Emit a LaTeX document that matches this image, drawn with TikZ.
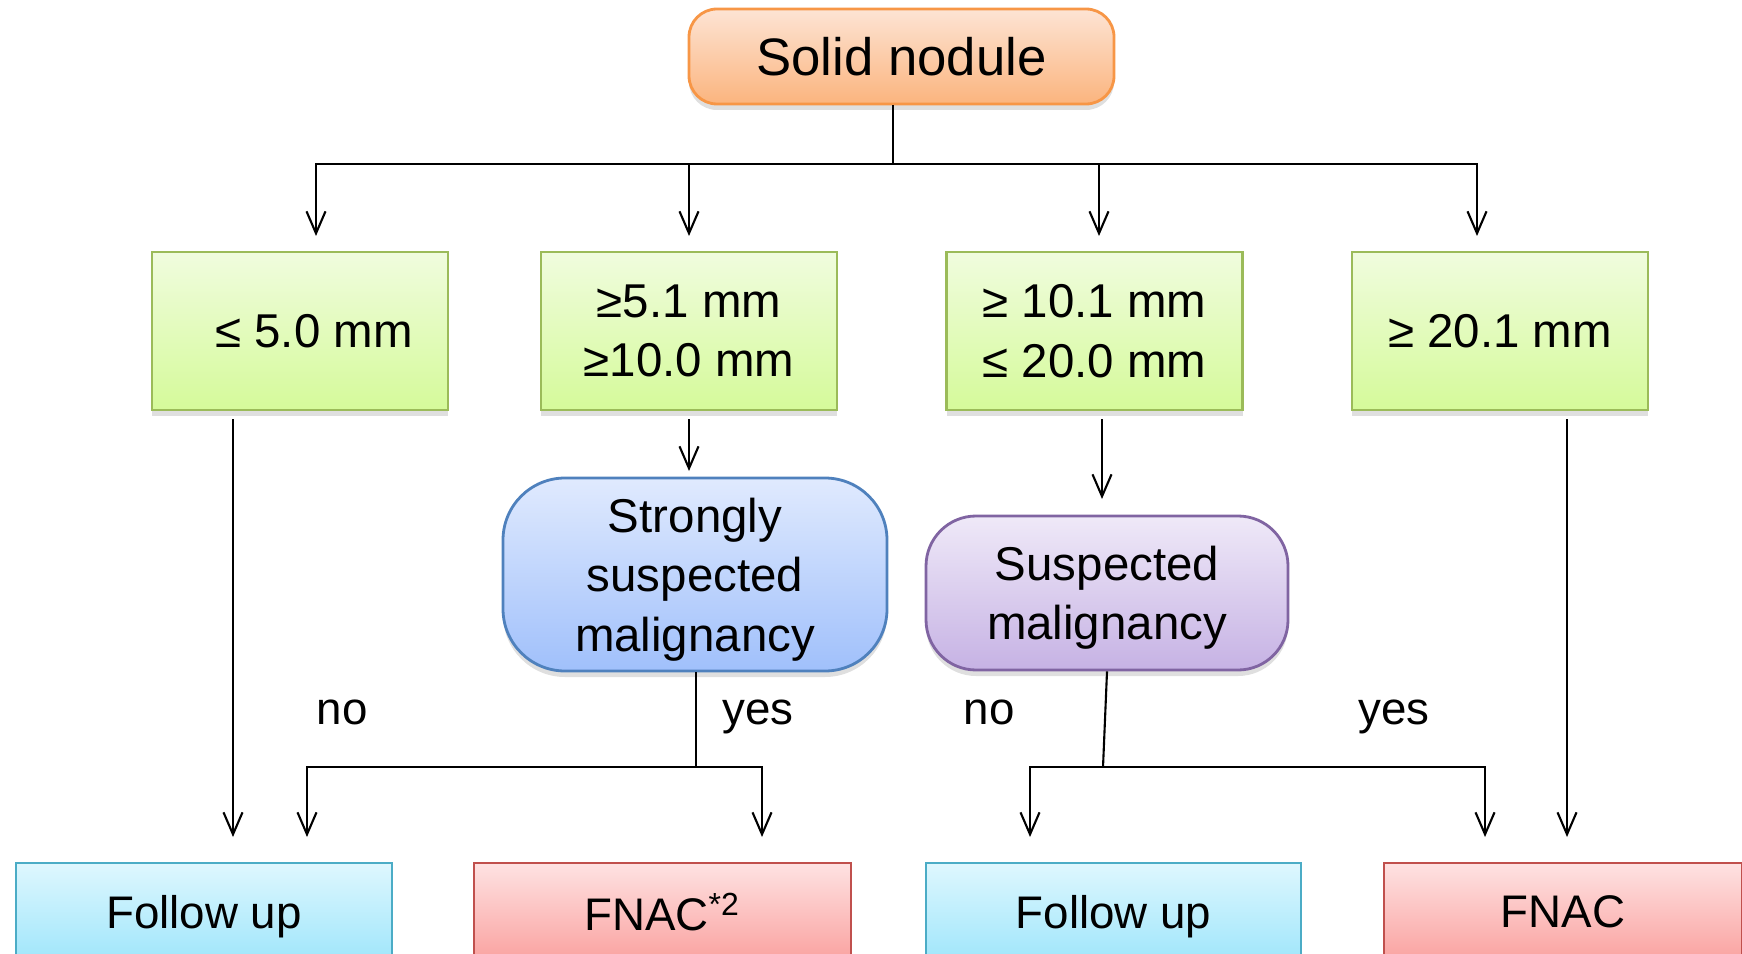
\documentclass[tikz,border=0pt]{standalone}
\usepackage{fontspec}
\setmainfont{Liberation Sans}
\usetikzlibrary{arrows.meta,shadows}

\definecolor{orgtop}{HTML}{FDE4D4}
\definecolor{orgbot}{HTML}{FBB47E}
\definecolor{orgline}{HTML}{F79646}
\definecolor{grntop}{HTML}{F0FCDE}
\definecolor{grnbot}{HTML}{D5FA9A}
\definecolor{grnline}{HTML}{9BBB59}
\definecolor{blutop}{HTML}{E0EAFE}
\definecolor{blubot}{HTML}{A0C0FB}
\definecolor{bluline}{HTML}{4F81BD}
\definecolor{purtop}{HTML}{EFE9F8}
\definecolor{purbot}{HTML}{C6B2E4}
\definecolor{purline}{HTML}{8064A2}
\definecolor{cyntop}{HTML}{DEF7FE}
\definecolor{cynbot}{HTML}{A0E6FB}
\definecolor{cynline}{HTML}{4BACC6}
\definecolor{redtop}{HTML}{FEE2E2}
\definecolor{redbot}{HTML}{FAA2A0}
\definecolor{redline}{HTML}{C0504D}

\tikzset{
  txt/.style={font=\fontsize{13.5}{16.9}\selectfont},
  box/.style={txt, draw, line width=0.8pt, align=center, inner sep=0pt},
  shade/.style={drop shadow={opacity=0.25, shadow xshift=0pt, shadow yshift=-0.6mm}},
  rootbox/.style={box, shade, draw=orgline, top color=orgtop, bottom color=orgbot,
    rounded corners=0.28cm, minimum width=4.25cm, minimum height=0.95cm,
    font=\fontsize{15}{18}\selectfont},
  sizebox/.style={box, shade, draw=grnline, top color=grntop, bottom color=grnbot,
    minimum width=2.96cm, minimum height=1.58cm},
  strongbox/.style={box, shade, draw=bluline, top color=blutop, bottom color=blubot,
    rounded corners=0.62cm, minimum width=3.84cm, minimum height=1.93cm, text depth=0pt},
  suspbox/.style={box, shade, draw=purline, top color=purtop, bottom color=purbot,
    rounded corners=0.5cm, minimum width=3.62cm, minimum height=1.54cm, text depth=0pt},
  fubox/.style={box, draw=cynline, top color=cyntop, bottom color=cynbot,
    minimum width=3.76cm, minimum height=0.98cm, text depth=0pt,
    font=\fontsize{13}{16}\selectfont},
  fnbox/.style={box, draw=redline, top color=redtop, bottom color=redbot,
    minimum width=3.77cm, minimum height=0.98cm, font=\fontsize{13}{16}\selectfont},
  lnk/.style={line width=0.6pt},
  arr/.style={lnk, -{Straight Barb[length=2.2mm,width=1.9mm]}},
  answer/.style={anchor=base, font=\fontsize{13}{16}\selectfont}
}

\begin{document}
\begin{tikzpicture}
  \useasboundingbox (0,0) rectangle (17.42,-9.53);
  \clip (0,0) rectangle (17.42,-9.53);

  \node[rootbox] (solid) at (9.015,-0.565) {Solid nodule};

  % size classes
  \node[sizebox] (le5) at (3.00,-3.31) {\hspace*{0.28cm}≤ 5.0 mm};
  \node[sizebox] (from5) at (6.89,-3.31) {≥5.1 mm\\≥10.0 mm};
  \node[sizebox] (from10) at (10.945,-3.31) {≥ 10.1 mm\\≤ 20.0 mm};
  \node[sizebox] (ge20) at (15.00,-3.31) {≥ 20.1 mm};

  \node[strongbox] (strong) at (6.95,-5.745) {Strongly\\suspected\\malignancy};
  \node[suspbox] (susp) at (11.07,-5.93) {Suspected\\malignancy};

  \node[fubox] (follow1) at (2.04,-9.12) {Follow up};
  \node[fnbox] (fnac2) at (6.625,-9.12) {FNAC\textsuperscript{*2}};
  \node[fubox, minimum width=3.75cm] (follow2) at (11.135,-9.12) {Follow up};
  \node[fnbox, minimum width=3.58cm] (fnac) at (15.63,-9.12) {FNAC};

  \node[answer] (no1) at (3.42,-7.245) {no};
  \node[answer] (yes1) at (7.58,-7.245) {yes};
  \node[answer] (no2) at (9.89,-7.245) {no};
  \node[answer] (yes2) at (13.94,-7.245) {yes};

  % split points and free arrow ends
  \coordinate (split) at (8.93,-1.64);
  \coordinate (toLe5) at (3.16,-2.36);
  \coordinate (toFrom5) at (6.89,-2.36);
  \coordinate (toFrom10) at (10.99,-2.36);
  \coordinate (toGe20) at (14.77,-2.36);

  \coordinate (le5out) at (2.33,-4.19);
  \coordinate (le5in) at (2.33,-8.37);
  \coordinate (from5out) at (6.89,-4.19);
  \coordinate (from5in) at (6.89,-4.71);
  \coordinate (from10out) at (11.02,-4.19);
  \coordinate (from10in) at (11.02,-4.99);
  \coordinate (ge20out) at (15.67,-4.19);
  \coordinate (ge20in) at (15.67,-8.37);

  \coordinate (strongsplit) at (6.96,-7.67);
  \coordinate (follow1in) at (3.07,-8.37);
  \coordinate (fnac2in) at (7.62,-8.37);
  \coordinate (suspsplit) at (11.03,-7.67);
  \coordinate (follow2in) at (10.30,-8.37);
  \coordinate (fnacin) at (14.85,-8.37);

  \draw[lnk] (solid.south -| split) -- (split);
  \draw[arr] (split) -| (toLe5);
  \draw[arr] (split) -| (toFrom5);
  \draw[arr] (split) -| (toFrom10);
  \draw[arr] (split) -| (toGe20);

  \draw[arr] (le5out) -- (le5in);
  \draw[arr] (from5out) -- (from5in);
  \draw[arr] (from10out) -- (from10in);
  \draw[arr] (ge20out) -- (ge20in);

  \draw[lnk] (strong.south -| strongsplit) -- (strongsplit);
  \draw[arr] (strongsplit) -| (follow1in);
  \draw[arr] (strongsplit) -| (fnac2in);

  \draw[lnk] (susp.south) -- (suspsplit);
  \draw[arr] (suspsplit) -| (follow2in);
  \draw[arr] (suspsplit) -| (fnacin);
\end{tikzpicture}
\end{document}
